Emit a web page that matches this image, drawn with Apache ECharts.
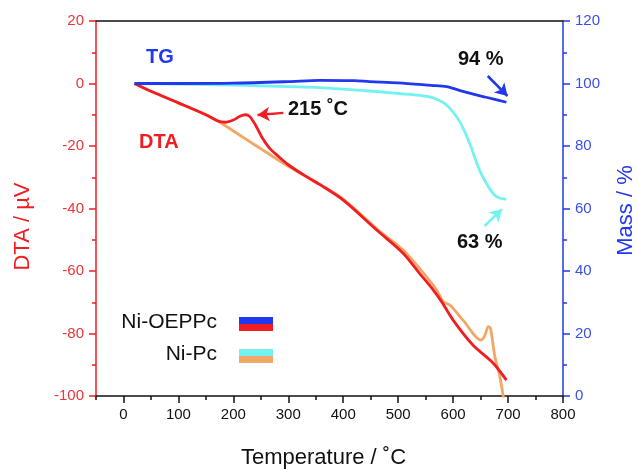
<!DOCTYPE html>
<html>
<head>
<meta charset="utf-8">
<script src="https://cdn.jsdelivr.net/npm/echarts@6/dist/echarts.min.js"></script>
<style>
  html, body { margin: 0; padding: 0; background: #fff; }
  #chart { width: 638px; height: 469px; }
</style>
</head>
<body>
<div id="chart"></div>
<script>
// ── Data (temperature in ˚C) ────────────────────────────────────────────────
// DTA, µV (left axis)
const dtaOEPPc = [
  [20, 0], [50, -2.5], [100, -6.2], [150, -10], [172, -12.0], [185, -12.4],
  [200, -11.7], [212, -10.5], [222, -10.0], [230, -10.6], [240, -13.2],
  [252, -17.2], [265, -20.5], [280, -23.0], [300, -26], [330, -29.5],
  [357, -32.3], [400, -37.3], [461, -46.9], [509, -54.3], [540, -61],
  [564, -66.1], [579, -69.8], [600, -75.7], [636, -83.7], [673, -89.5],
  [697, -94.9]
];
const dtaPc = [
  [20, 0], [50, -2.5], [100, -6.2], [150, -10], [176, -12.5], [220, -17.5],
  [260, -22], [300, -26.5], [357, -32.2], [400, -37], [461, -46.5],
  [509, -53.3], [546, -60.7], [570, -66.1], [582, -69.8], [594, -70.9],
  [618, -75.7], [651, -82.1], [658, -80.5], [664, -77.8], [668, -78.3],
  [676, -87.4], [685, -93.8], [692, -101]
];
// TG, mass % (right axis)
const tgOEPPc = [
  [20, 100], [100, 100], [200, 100.1], [300, 100.6], [357, 101.0],
  [420, 100.9], [448, 100.6], [500, 100.2], [560, 99.4], [588, 99.0],
  [610, 97.9], [630, 96.9], [660, 95.6], [697, 94.0]
];
const tgPc = [
  [20, 100], [100, 99.8], [200, 99.5], [300, 99.0], [357, 98.7],
  [448, 97.6], [500, 96.8], [540, 96.2], [565, 95.3], [588, 93.1],
  [612, 87.8], [630, 80.9], [648, 72.3], [666, 66.5], [679, 63.8],
  [697, 62.9]
];
const xTickValues = [0, 100, 200, 300, 400, 500, 600, 700, 800];

const RED = '#f01d22';
const BLUE = '#2238ee';
const CYAN = '#74f2f2';
const ORANGE = '#f2a766';
const FONT = '"Liberation Sans", Arial, sans-serif';

const chart = echarts.init(document.getElementById('chart'));

function arrow(color, from, to) {
  return {
    silent: true,
    symbol: ['none', 'arrow'],
    symbolSize: [11, 12],
    label: { show: false },
    lineStyle: { color, width: 2.5, type: 'solid' },
    data: [[{ coord: from }, { coord: to }]]
  };
}

const lineSeries = (name, data, color, yIdx, extra) => Object.assign({
  name, type: 'line', data, yAxisIndex: yIdx, xAxisIndex: 0,
  smooth: 0.3, symbol: 'none',
  lineStyle: { color, width: 2.8 }, itemStyle: { color }, clip: true
}, extra || {});

chart.setOption({
  backgroundColor: '#fff',
  animation: false,
  textStyle: { fontFamily: FONT },
  grid: { left: 96, right: 75, top: 21, bottom: 73, outerBoundsMode: 'none', containLabel: false },
  xAxis: [
    {
      type: 'value', min: -50, max: 800, interval: 50, position: 'bottom',
      name: 'Temperature / ˚C', nameLocation: 'middle', nameGap: 51,
      nameTextStyle: { color: '#111', fontSize: 22, fontFamily: FONT, padding: [0, 12, 0, 0] },
      axisLine: { onZero: false, lineStyle: { color: '#111', width: 1.5 } },
      axisTick: { customValues: xTickValues, length: 7, lineStyle: { color: '#111', width: 1.5 } },
      axisLabel: { customValues: xTickValues, color: '#111', fontSize: 15, margin: 11, fontFamily: FONT },
      splitLine: { show: false }
    },
    {
      // minor ticks every 50
      type: 'value', min: -50, max: 800, interval: 50, position: 'bottom',
      axisLine: { show: false, onZero: false },
      axisTick: { length: 4, lineStyle: { color: '#111', width: 1.5 } },
      axisLabel: { show: false }, splitLine: { show: false }
    },
    {
      // top frame line
      type: 'value', min: -50, max: 800, position: 'top',
      axisLine: { onZero: false, lineStyle: { color: '#111', width: 1.5 } },
      axisTick: { show: false }, axisLabel: { show: false }, splitLine: { show: false }
    }
  ],
  yAxis: [
    {
      type: 'value', min: -100, max: 20, interval: 20, position: 'left',
      name: 'DTA / µV', nameLocation: 'middle', nameGap: 62, nameRotate: 90,
      nameTextStyle: { color: RED, fontSize: 22, fontFamily: FONT, padding: [0, 36, 0, 0] },
      axisLine: { show: true, onZero: false, lineStyle: { color: RED, width: 1.5 } },
      axisTick: { length: 7, lineStyle: { color: RED, width: 1.5 } },
      minorTick: { show: true, splitNumber: 2, length: 4, lineStyle: { color: RED, width: 1.5 } },
      axisLabel: { color: '#ee3438', fontSize: 15, margin: 12, fontFamily: FONT },
      splitLine: { show: false }
    },
    {
      type: 'value', min: 0, max: 120, interval: 20, position: 'right',
      name: 'Mass / %', nameLocation: 'middle', nameGap: 52, nameRotate: 90,
      nameTextStyle: { color: BLUE, fontSize: 22, fontFamily: FONT, padding: [0, 4, 0, 0] },
      axisLine: { show: true, onZero: false, lineStyle: { color: BLUE, width: 1.5 } },
      axisTick: { length: 7, lineStyle: { color: BLUE, width: 1.5 } },
      minorTick: { show: true, splitNumber: 2, length: 4, lineStyle: { color: BLUE, width: 1.5 } },
      axisLabel: { color: '#3a4ee8', fontSize: 15, margin: 12, fontFamily: FONT },
      splitLine: { show: false }
    }
  ],
  series: [
    lineSeries('DTA Ni-Pc', dtaPc, ORANGE, 0),
    lineSeries('TG Ni-Pc', tgPc, CYAN, 1, { markLine: arrow(CYAN, [657, 54.4], [689, 59.8]) }),
    lineSeries('DTA Ni-OEPPc', dtaOEPPc, RED, 0, { markLine: arrow(RED, [291, -9.4], [244, -10.1]) }),
    lineSeries('TG Ni-OEPPc', tgOEPPc, BLUE, 1, { markLine: arrow(BLUE, [663, 102.4], [699, 96.0]) })
  ],
  graphic: [
    // annotations
    { type: 'text', left: 146, top: 47, style: { text: 'TG', fill: BLUE, font: 'bold 20px ' + FONT } },
    { type: 'text', left: 139, top: 132, style: { text: 'DTA', fill: RED, font: 'bold 20px ' + FONT } },
    { type: 'text', left: 288, top: 99, style: { text: '215 ˚C', fill: '#111', font: 'bold 20px ' + FONT } },
    { type: 'text', left: 458, top: 49, style: { text: '94 %', fill: '#111', font: 'bold 20px ' + FONT } },
    { type: 'text', left: 457, top: 232, style: { text: '63 %', fill: '#111', font: 'bold 20px ' + FONT } },
    // legend
    { type: 'text', right: 638 - 217, top: 312, style: { text: 'Ni-OEPPc', fill: '#111', font: '21px ' + FONT } },
    { type: 'text', right: 638 - 217, top: 344, style: { text: 'Ni-Pc', fill: '#111', font: '21px ' + FONT } },
    { type: 'rect', shape: { x: 239, y: 317, width: 34, height: 7 }, style: { fill: BLUE } },
    { type: 'rect', shape: { x: 239, y: 324, width: 34, height: 7 }, style: { fill: RED } },
    { type: 'rect', shape: { x: 239, y: 349, width: 34, height: 7 }, style: { fill: CYAN } },
    { type: 'rect', shape: { x: 239, y: 356, width: 34, height: 7 }, style: { fill: ORANGE } }
  ]
});
</script>
</body>
</html>
